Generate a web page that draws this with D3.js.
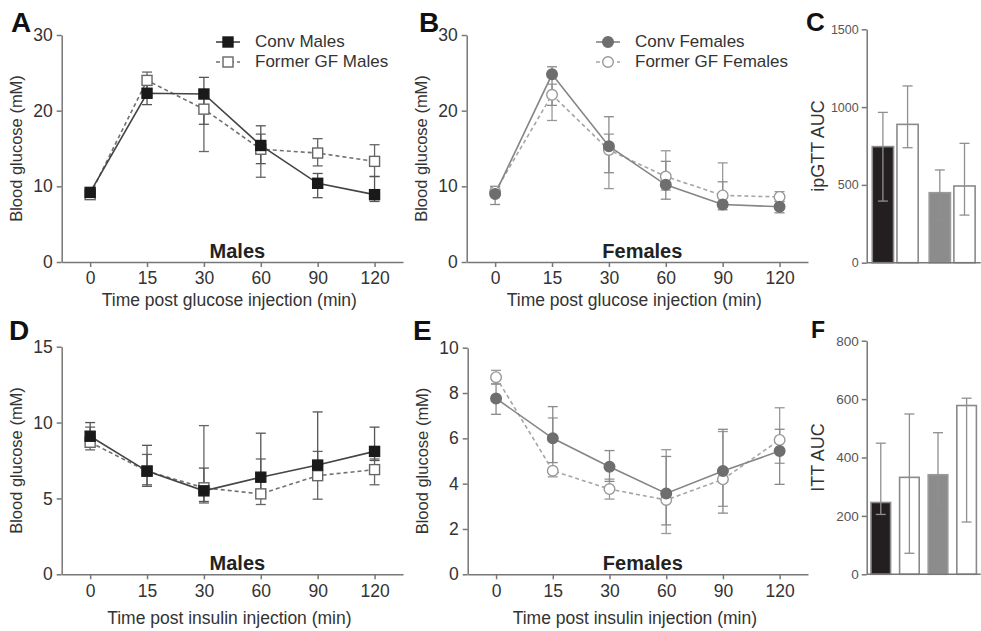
<!DOCTYPE html>
<html>
<head>
<meta charset="utf-8">
<script src="https://cdn.jsdelivr.net/npm/d3@7"></script>
<style>
  body { margin: 0; background: #fff; }
  svg { font-family: "Liberation Sans", Arial, sans-serif; }
</style>
</head>
<body>
<svg id="fig" width="981" height="631"></svg>
<script>
// time points (min)
var timeLabels = ["0", "15", "30", "60", "90", "120"];

// A - ipGTT males (mM), whisker ends
var gttConvMales      = [9.2, 22.3, 22.2, 15.4, 10.4, 8.9];
var gttConvMalesLo    = [8.8, 20.8, 18.2, 13.0, 8.5, 8.0];
var gttConvMalesHi    = [9.6, 23.4, 24.4, 18.0, 11.7, 11.3];
var gttFormerMales    = [8.9, 24.0, 20.2, 14.9, 14.4, 13.3];
var gttFormerMalesLo  = [8.5, 22.9, 14.6, 11.2, 12.7, 11.3];
var gttFormerMalesHi  = [9.3, 25.1, 21.8, 16.9, 16.3, 15.5];

// B - ipGTT females
var gttConvFemales     = [9.0, 24.8, 15.3, 10.2, 7.6, 7.3];
var gttConvFemalesLo   = [7.6, 20.7, 11.8, 8.3, 6.9, 6.5];
var gttConvFemalesHi   = [10.0, 25.8, 19.2, 13.3, 10.6, 8.0];
var gttFormerFemales   = [9.3, 22.1, 14.8, 11.3, 8.8, 8.6];
var gttFormerFemalesLo = [8.8, 18.7, 9.7, 9.5, 8.0, 8.0];
var gttFormerFemalesHi = [9.9, 23.5, 16.9, 14.7, 13.1, 9.3];

// D - ITT males
var ittConvMales      = [9.1, 6.8, 5.5, 6.4, 7.2, 8.1];
var ittConvMalesLo    = [8.6, 5.8, 4.8, 5.6, 6.4, 7.5];
var ittConvMalesHi    = [10.0, 8.5, 7.0, 9.3, 10.7, 9.7];
var ittFormerMales    = [8.7, 6.8, 5.7, 5.3, 6.5, 6.9];
var ittFormerMalesLo  = [8.2, 5.9, 4.7, 4.6, 4.95, 5.9];
var ittFormerMalesHi  = [9.7, 7.9, 9.8, 7.6, 8.1, 7.6];

// E - ITT females
var ittConvFemales     = [7.76, 6.0, 4.75, 3.57, 4.56, 5.44];
var ittConvFemalesLo   = [7.06, 4.93, 4.1, 2.18, 2.7, 3.97];
var ittConvFemalesHi   = [8.4, 7.4, 5.46, 5.2, 6.4, 6.4];
var ittFormerFemales   = [8.7, 4.57, 3.76, 3.28, 4.19, 5.93];
var ittFormerFemalesLo = [8.4, 4.3, 3.32, 1.8, 3.0, 4.9];
var ittFormerFemalesHi = [9.0, 6.9, 4.2, 5.5, 6.3, 7.35];

// C / F - AUC bars: conv males, former GF males, conv females, former GF females
var barGroups = ["Conv Males", "Former GF Males", "Conv Females", "Former GF Females"];
var gttAuc   = [746, 889, 450, 493];
var gttAucLo = [396, 739, 274, 306];
var gttAucHi = [966, 1136, 596, 767];
var ittAuc   = [246, 332, 341, 578];
var ittAucLo = [205, 72, 234, 179];
var ittAucHi = [449, 549, 485, 603];

var svg = d3.select("#fig");

var axisColor = "#777";
var textColor = "#333";

// styles per series
var maleConv   = { shape: "square", fill: "#1a1a1a", stroke: "#1a1a1a", line: "#444", dash: null, err: "#555" };
var maleFormer = { shape: "square", fill: "#fff", stroke: "#666", line: "#707070", dash: "4,3", err: "#666" };
var femConv    = { shape: "circle", fill: "#6e6e6e", stroke: "#6e6e6e", line: "#858585", dash: null, err: "#8a8a8a" };
var femFormer  = { shape: "circle", fill: "#fff", stroke: "#999", line: "#a5a5a5", dash: "4,3", err: "#999" };

function marker(g, st, cx, cy) {
  if (st.shape == "square") {
    g.append("rect")
      .attr("x", cx - 5).attr("y", cy - 5)
      .attr("width", 10).attr("height", 10)
      .attr("fill", st.fill).attr("stroke", st.stroke).attr("stroke-width", 1.4);
  } else {
    g.append("circle")
      .attr("cx", cx).attr("cy", cy).attr("r", 5.3)
      .attr("fill", st.fill).attr("stroke", st.stroke).attr("stroke-width", 1.4);
  }
}

function styleAxis(g, size) {
  g.select(".domain").attr("stroke", axisColor).attr("stroke-width", 1.5);
  g.selectAll(".tick line").attr("stroke", axisColor).attr("stroke-width", 1.5);
  g.selectAll(".tick text").attr("fill", textColor).style("font-size", size + "px");
}

function panelLetter(txt, x, y, size) {
  svg.append("text").attr("x", x).attr("y", y)
    .style("font-size", size + "px").style("font-weight", "bold")
    .attr("fill", "#111").text(txt);
}

function yTitle(txt, x, yMid, size) {
  svg.append("text")
    .attr("transform", `translate(${x}, ${yMid}) rotate(-90)`)
    .attr("text-anchor", "middle")
    .attr("fill", textColor)
    .style("font-size", size + "px")
    .text(txt);
}

function linePanel(cfg, series) {
  var x = d3.scalePoint().domain(timeLabels).range([cfg.left, cfg.right]).padding(0.5);
  var y = d3.scaleLinear().domain([0, cfg.yMax]).range([cfg.bottom, cfg.top]);

  var gy = svg.append("g")
    .attr("transform", `translate(${cfg.left},0)`)
    .call(d3.axisLeft(y).tickValues(cfg.yTicks).tickSize(5).tickSizeOuter(0).tickPadding(4));
  styleAxis(gy, 17.5);

  var gx = svg.append("g")
    .attr("transform", `translate(0,${cfg.bottom})`)
    .call(d3.axisBottom(x).tickSize(5).tickSizeOuter(0).tickPadding(5));
  styleAxis(gx, 17.5);

  var plot = svg.append("g");

  // error bars
  series.forEach(s => {
    timeLabels.forEach((t, i) => {
      plot.append("line")
        .attr("x1", x(t)).attr("x2", x(t))
        .attr("y1", y(s.lo[i])).attr("y2", y(s.hi[i]))
        .attr("stroke", s.st.err).attr("stroke-width", 1.3);
      [s.lo[i], s.hi[i]].forEach(v => {
        plot.append("line")
          .attr("x1", x(t) - 5).attr("x2", x(t) + 5)
          .attr("y1", y(v)).attr("y2", y(v))
          .attr("stroke", s.st.err).attr("stroke-width", 1.3);
      });
    });
  });

  // lines
  var line = d3.line().x((d, i) => x(timeLabels[i])).y(d => y(d));
  series.forEach(s => {
    plot.append("path")
      .attr("d", line(s.values))
      .attr("fill", "none")
      .attr("stroke", s.st.line)
      .attr("stroke-width", 1.6)
      .attr("stroke-dasharray", s.st.dash);
  });

  // markers
  series.forEach(s => {
    s.values.forEach((v, i) => marker(plot, s.st, x(timeLabels[i]), y(v)));
  });

  // sex label inside plot
  svg.append("text")
    .attr("x", (cfg.left + cfg.right) / 2 + 5)
    .attr("y", cfg.bottom - 4)
    .attr("text-anchor", "middle")
    .style("font-size", "20px").style("font-weight", "bold")
    .attr("fill", "#222")
    .text(cfg.sexLabel);

  // x axis title
  svg.append("text")
    .attr("x", (cfg.left + cfg.right) / 2 - 3)
    .attr("y", cfg.bottom + cfg.titleOff)
    .attr("text-anchor", "middle")
    .attr("fill", textColor)
    .style("font-size", "17.5px")
    .text(cfg.xTitle);

  yTitle("Blood glucose (mM)", cfg.left - 40, (cfg.top + cfg.bottom) / 2, 16.5);
}

function legend(x0, y0, items) {
  items.forEach((it, i) => {
    var yy = y0 + i * 20;
    svg.append("line")
      .attr("x1", x0 - 12).attr("x2", x0 + 12)
      .attr("y1", yy).attr("y2", yy)
      .attr("stroke", it.st.line).attr("stroke-width", 1.6)
      .attr("stroke-dasharray", it.st.dash);
    marker(svg, it.st, x0, yy);
    svg.append("text")
      .attr("x", x0 + 27).attr("y", yy + 5)
      .attr("fill", textColor)
      .style("font-size", "17px")
      .text(it.label);
  });
}

function barPanel(cfg, values, lo, hi) {
  var y = d3.scaleLinear().domain([0, cfg.yMax]).range([cfg.bottom, cfg.top]);
  var xPos, bw;
  if (cfg.grouped) {
    var x0 = d3.scaleBand().domain([0, 1]).range([cfg.left, cfg.right]).paddingInner(0.193).paddingOuter(0.098);
    var x1 = d3.scaleBand().domain([0, 1]).range([0, x0.bandwidth()]).paddingInner(0.14);
    xPos = i => x0(Math.floor(i / 2)) + x1(i % 2);
    bw = x1.bandwidth();
  } else {
    var xb = d3.scaleBand().domain(barGroups).range([cfg.left, cfg.right]).paddingInner(0.315).paddingOuter(0.15);
    xPos = i => xb(barGroups[i]);
    bw = xb.bandwidth();
  }
  var fills = ["#231f20", "#fff", "#8c8c8c", "#fff"];
  var strokes = ["#8a8a8a", "#8a8a8a", "#9a9a9a", "#8a8a8a"];

  var g = svg.append("g");
  values.forEach((v, i) => {
    g.append("rect")
      .attr("x", xPos(i)).attr("y", y(v))
      .attr("width", bw).attr("height", y(0) - y(v))
      .attr("fill", fills[i]).attr("stroke", strokes[i]).attr("stroke-width", 1.6);
    var cx = xPos(i) + bw / 2;
    g.append("line")
      .attr("x1", cx).attr("x2", cx).attr("y1", y(lo[i])).attr("y2", y(hi[i]))
      .attr("stroke", "#8f8f8f").attr("stroke-width", 1.3);
    [lo[i], hi[i]].forEach(e => {
      g.append("line")
        .attr("x1", cx - 5).attr("x2", cx + 5).attr("y1", y(e)).attr("y2", y(e))
        .attr("stroke", "#8f8f8f").attr("stroke-width", 1.3);
    });
  });

  var gy = svg.append("g")
    .attr("transform", `translate(${cfg.left},0)`)
    .call(d3.axisLeft(y).tickValues(cfg.yTicks).tickFormat(d3.format("d"))
      .tickSize(5).tickSizeOuter(0).tickPadding(3));
  styleAxis(gy, cfg.tickSize);
  gy.selectAll(".tick text").attr("fill", "#555");

  svg.append("line")
    .attr("x1", cfg.left).attr("x2", cfg.right)
    .attr("y1", cfg.bottom).attr("y2", cfg.bottom)
    .attr("stroke", axisColor).attr("stroke-width", 1.5);

  yTitle(cfg.yLabel, cfg.left - 43, (cfg.top + cfg.bottom) / 2, 18);
}

// ---- panels ----
linePanel({ left: 61.7, right: 403, top: 35, bottom: 262, yMax: 30, yTicks: [0, 10, 20, 30],
            sexLabel: "Males", xTitle: "Time post glucose injection (min)", titleOff: 44 },
  [{ values: gttFormerMales, lo: gttFormerMalesLo, hi: gttFormerMalesHi, st: maleFormer },
   { values: gttConvMales, lo: gttConvMalesLo, hi: gttConvMalesHi, st: maleConv }]);

linePanel({ left: 466.7, right: 808, top: 35, bottom: 262, yMax: 30, yTicks: [0, 10, 20, 30],
            sexLabel: "Females", xTitle: "Time post glucose injection (min)", titleOff: 44 },
  [{ values: gttFormerFemales, lo: gttFormerFemalesLo, hi: gttFormerFemalesHi, st: femFormer },
   { values: gttConvFemales, lo: gttConvFemalesLo, hi: gttConvFemalesHi, st: femConv }]);

linePanel({ left: 61.7, right: 403, top: 346.7, bottom: 574.3, yMax: 15, yTicks: [0, 5, 10, 15],
            sexLabel: "Males", xTitle: "Time post insulin injection (min)", titleOff: 50 },
  [{ values: ittFormerMales, lo: ittFormerMalesLo, hi: ittFormerMalesHi, st: maleFormer },
   { values: ittConvMales, lo: ittConvMalesLo, hi: ittConvMalesHi, st: maleConv }]);

linePanel({ left: 467.7, right: 808, top: 347.7, bottom: 574.3, yMax: 10, yTicks: [0, 2, 4, 6, 8, 10],
            sexLabel: "Females", xTitle: "Time post insulin injection (min)", titleOff: 50 },
  [{ values: ittFormerFemales, lo: ittFormerFemalesLo, hi: ittFormerFemalesHi, st: femFormer },
   { values: ittConvFemales, lo: ittConvFemalesLo, hi: ittConvFemalesHi, st: femConv }]);

barPanel({ left: 866.7, right: 980.7, top: 29.3, bottom: 262.7, yMax: 1500, yTicks: [0, 500, 1000, 1500],
           grouped: true, tickSize: 12.5, yLabel: "ipGTT AUC" }, gttAuc, gttAucLo, gttAucHi);

barPanel({ left: 866.7, right: 980.7, top: 340.7, bottom: 574.3, yMax: 800, yTicks: [0, 200, 400, 600, 800],
           grouped: false, tickSize: 13.5, yLabel: "ITT AUC" }, ittAuc, ittAucLo, ittAucHi);

legend(228, 42, [{ label: "Conv Males", st: maleConv }, { label: "Former GF Males", st: maleFormer }]);
legend(608, 42, [{ label: "Conv Females", st: femConv }, { label: "Former GF Females", st: femFormer }]);

panelLetter("A", 11, 32, 28);
panelLetter("B", 419, 32, 28);
panelLetter("C", 806, 31, 26);
panelLetter("D", 9, 340, 28);
panelLetter("E", 413, 340, 28);
panelLetter("F", 811, 338, 23);
</script>
</body>
</html>
